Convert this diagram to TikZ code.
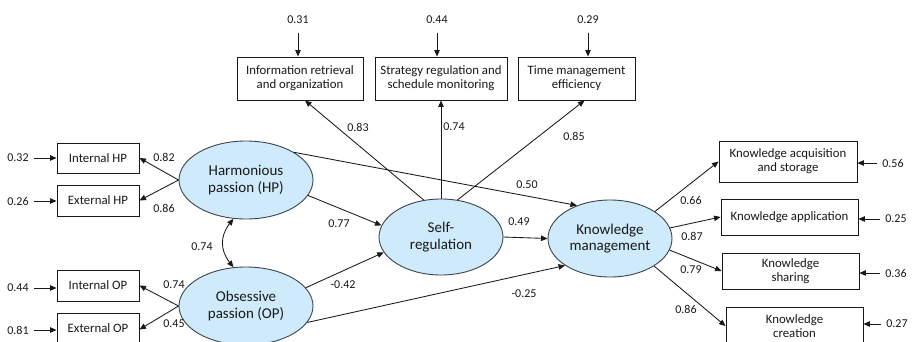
\documentclass[tikz,border=0pt]{standalone}
\usepackage{fontspec}
\setmainfont{Carlito}
\usetikzlibrary{arrows.meta,shapes.geometric,calc}
\definecolor{ellfill}{RGB}{207,234,250}
\definecolor{ellline}{RGB}{60,68,76}
\definecolor{ink}{RGB}{25,25,25}
\begin{document}
\begin{tikzpicture}[x=1pt,y=-1pt,
  lat/.style={ellipse, draw=ellline, fill=ellfill, line width=0.9pt, inner sep=0pt, align=center, font=\fontsize{15}{16.5}\selectfont, text=ink},
  box/.style={rectangle, draw=ink, line width=0.9pt, align=center, font=\fontsize{12.8}{14}\selectfont, inner sep=0pt, text=ink},
  lab/.style={font=\fontsize{12}{14}\selectfont, text=ink, inner sep=0pt},
  err/.style={font=\fontsize{12}{14}\selectfont, text=ink, inner sep=5pt},
  arr/.style={-{Triangle[length=6.5pt,width=5.5pt]}, line width=0.85pt, draw=ink},
  darr/.style={{Triangle[length=6.5pt,width=5.5pt]}-{Triangle[length=6.5pt,width=5.5pt]}, line width=0.85pt, draw=ink},
]
\useasboundingbox (0,0) rectangle (914,341);
\fill[white] (0,0) rectangle (914,341);

% latent variables
\node[lat, minimum width=134pt, minimum height=78pt] (HP) at (246,180) {Harmonious\\passion (HP)};
\node[lat, minimum width=134pt, minimum height=78pt] (OP) at (246,306) {Obsessive\\passion (OP)};
\node[lat, minimum width=124pt, minimum height=76pt] (SR) at (441,237) {Self-\\regulation};
\node[lat, minimum width=124pt, minimum height=77pt] (KM) at (610,238.5) {Knowledge\\management};

% top indicator boxes
\node[box, minimum width=126pt, minimum height=43pt] (IR) at (300,78.5) {Information retrieval\\and organization};
\node[box, minimum width=132pt, minimum height=43pt] (SS) at (441,78.5) {Strategy regulation and\\schedule monitoring};
\node[box, minimum width=117pt, minimum height=43pt] (TM) at (576.5,78.5) {Time management\\efficiency};

% left indicator boxes
\node[box, minimum width=82pt, minimum height=30pt] (IHP) at (98,158) {Internal HP};
\node[box, minimum width=82pt, minimum height=31pt] (EHP) at (98,200.5) {External HP};
\node[box, minimum width=82pt, minimum height=31pt] (IOP) at (98,285.5) {Internal OP};
\node[box, minimum width=82pt, minimum height=31pt] (EOP) at (98,328.5) {External OP};

% right indicator boxes
\node[box, minimum width=138pt, minimum height=41pt] (KA) at (788,161.5) {Knowledge acquisition\\and storage};
\node[box, minimum width=137pt, minimum height=36pt] (KAP) at (789.5,217) {Knowledge application};
\node[box, minimum width=137pt, minimum height=36pt] (KS) at (790.5,271) {Knowledge\\sharing};
\node[box, minimum width=137pt, minimum height=38pt] (KC) at (794.5,326) {Knowledge\\creation};

% error terms
\node[err] (eIR) at (298,20) {0.31};
\node[err] (eSS) at (437,20) {0.44};
\node[err] (eTM) at (588,20) {0.29};
\node[err] (eIHP) at (18,158) {0.32};
\node[err] (eEHP) at (18,201) {0.26};
\node[err] (eIOP) at (18,288) {0.44};
\node[err] (eEOP) at (18,330) {0.81};
\node[err] (eKA) at (893,163) {0.56};
\node[err] (eKAP) at (896,219) {0.25};
\node[err] (eKS) at (896,273) {0.36};
\node[err] (eKC) at (897,324) {0.27};

\draw[arr, shorten <=4pt] (eIR.south) -- (eIR.south |- IR.north);
\draw[arr, shorten <=4pt] (eSS.south) -- (eSS.south |- SS.north);
\draw[arr, shorten <=4pt] (eTM.south) -- (eTM.south |- TM.north);
\draw[arr] (eIHP.east) -- (eIHP.east -| IHP.west);
\draw[arr] (eEHP.east) -- (eEHP.east -| EHP.west);
\draw[arr] (eIOP.east) -- (eIOP.east -| IOP.west);
\draw[arr] (eEOP.east) -- (eEOP.east -| EOP.west);
\draw[arr] (eKA.west) -- (eKA.west -| KA.east);
\draw[arr] (eKAP.west) -- (eKAP.west -| KAP.east);
\draw[arr] (eKS.west) -- (eKS.west -| KS.east);
\draw[arr] (eKC.west) -- (eKC.west -| KC.east);

% loadings
\draw[arr] (HP.west) -- (IHP.east);
\draw[arr] (HP.west) -- (EHP.east);
\draw[arr] (OP.west) -- (IOP.east);
\draw[arr] (OP.west) -- ([yshift=-1pt]EOP.east);
\draw[arr] (SR.115) -- ([xshift=5pt]IR.south);
\draw[arr] (SR.north) -- (SS.south);
\draw[arr] (SR.66) -- ([xshift=8pt]TM.south);
\draw[arr] (KM.31) -- (KA.west);
\draw[arr] (KM.10) -- (KAP.west);
\draw[arr] (KM.-11) -- (KS.west);
\draw[arr] (KM.-32) -- (KC.west);

% structural paths
\draw[arr] (HP.30) -- (KM.135);
\draw[arr] (HP.-14) -- (SR.169);
\draw[arr] (OP.17) -- (SR.195);
\draw[arr] (OP.-15) -- (KM.211);
\draw[arr] (SR.east) -- (KM.west);
\draw[darr] (HP.252) .. controls (220,236) and (220,250) .. (OP.108);

% coefficients
\node[lab] (l1) at (164,157) {0.82};
\node[lab] (l2) at (164,208) {0.86};
\node[lab] (l3) at (202,247) {0.74};
\node[lab] (l4) at (174,285) {0.74};
\node[lab] (l5) at (174,324) {0.45};
\node[lab] (l6) at (358,127) {0.83};
\node[lab] (l7) at (454,127) {0.74};
\node[lab] (l8) at (574,136) {0.85};
\node[lab] (l9) at (527,185) {0.50};
\node[lab] (l10) at (339,224) {0.77};
\node[lab] (l11) at (519,222) {0.49};
\node[lab] (l12) at (343,285) {-0.42};
\node[lab] (l13) at (524,294) {-0.25};
\node[lab] (l14) at (691,200) {0.66};
\node[lab] (l15) at (692,236) {0.87};
\node[lab] (l16) at (691,270) {0.79};
\node[lab] (l17) at (686,309) {0.86};
\end{tikzpicture}
\end{document}
